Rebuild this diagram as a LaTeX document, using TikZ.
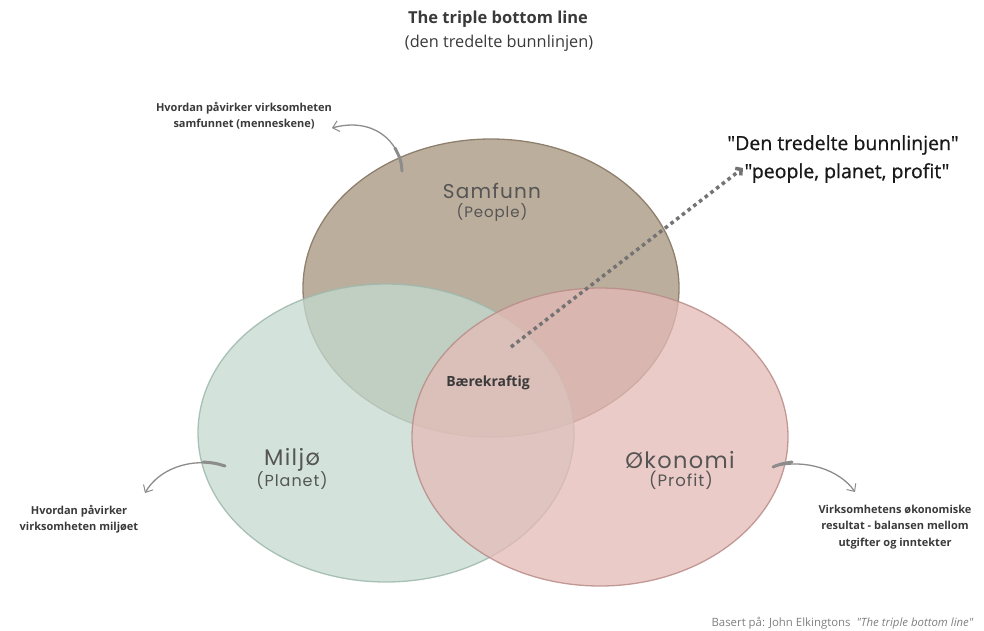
\documentclass[tikz,border=0pt]{standalone}
\usepackage{fontspec}
\setmainfont{Open Sans}
\newfontfamily\plainquotes{Open Sans}[Ligatures=TeXOff]
\newfontfamily\slogantype{Open Sans}[Ligatures=TeXOff, FakeBold=0.8]
\newfontfamily\circlefont{Poppins}[LetterSpace=6]
\usetikzlibrary{shapes.geometric,arrows.meta,calc}

\definecolor{peoplefill}{HTML}{BCAE9C}
\definecolor{peopleline}{HTML}{8F806E}
\definecolor{planetfill}{HTML}{C4DAD0}
\definecolor{planetline}{HTML}{9DB8AC}
\definecolor{profitfill}{HTML}{E4BAB6}
\definecolor{profitline}{HTML}{B98C88}
\definecolor{ink}{HTML}{3A3A3A}
\definecolor{softink}{HTML}{555555}
\definecolor{brush}{HTML}{8C8C8C}
\definecolor{dots}{HTML}{737373}
\definecolor{footink}{HTML}{808080}

\begin{document}
\begin{tikzpicture}[x=1pt,y=-1pt,
  pillar/.style={ellipse, inner sep=0pt, outer sep=0pt,
    minimum width=376pt, minimum height=298pt, line width=1.3pt},
  blend/.style={fill opacity=0.75, draw opacity=0.85},
  pillarname/.style={font=\circlefont\fontsize{20}{22}\selectfont, text=softink},
  pillarsub/.style={font=\circlefont\fontsize{15}{17}\selectfont, text=softink},
  note/.style={font=\bfseries\fontsize{11}{16.5}\selectfont, text=ink, align=center, inner sep=0pt},
  slogan/.style={font=\slogantype\fontsize{19.5}{22}\selectfont, text=black!90},
  brushline/.style={draw=brush, line width=1.3pt, line cap=round,
    -{Straight Barb[length=6pt, width=11pt, line width=1pt]}},
  brushbase/.style={draw=brush, line width=3pt, line cap=round},
  dotline/.style={draw=dots, line width=3.5pt, dash pattern=on 3.6pt off 3.6pt,
    -{Straight Barb[length=4pt, width=9pt, line width=3.5pt]}}
]
\useasboundingbox (0,0) rectangle (984,630);

% three overlapping pillars
\node[pillar, fill=peoplefill, draw=peopleline] (people) at (491,288) {};
\node[pillar, blend, fill=planetfill, draw=planetline] (planet) at (386,433) {};
\node[pillar, blend, fill=profitfill, draw=profitline] (profit) at (600,437) {};

% titles
\node[font=\bfseries\fontsize{16.5}{18}\selectfont, text=ink] (title) at (498,19) {The triple bottom line};
\node[font=\fontsize{16.3}{18}\selectfont, text=ink] (subtitle) at (499,43) {(den tredelte bunnlinjen)};

% pillar names
\node[pillarname] (peoplename) at (492,191) {Samfunn};
\node[pillarsub] (peoplesub) at (492,212) {(People)};
\node[pillarname, font=\circlefont\fontsize{22.5}{24}\selectfont] (planetname) at (292,460) {Miljø};
\node[pillarsub, font=\circlefont\fontsize{16}{18}\selectfont] (planetsub) at (292,481) {(Planet)};
\node[pillarname, font=\circlefont\fontsize{22.5}{24}\selectfont] (profitname) at (680,460) {Økonomi};
\node[pillarsub, font=\circlefont\fontsize{16.5}{18}\selectfont] (profitsub) at (681,480) {(Profit)};

% the centre
\node[font=\bfseries\fontsize{14}{16}\selectfont, text=ink] (core) at (488,383) {Bærekraftig};

% explanatory notes
\node[note] (peoplenote) at (244,116) {Hvordan påvirker virksomheten\\samfunnet (menneskene)};
\node[note] (planetnote) at (79,519) {Hvordan påvirker\\virksomheten miljøet};
\node[note] (profitnote) at (895,527) {Virksomhetens økonomiske\\resultat - balansen mellom\\utgifter og inntekter};

\node[slogan] (tbl) at (843,145) {"Den tredelte bunnlinjen"};
\node[slogan] (ppp) at (847,173) {"people, planet, profit"};

\node[font=\plainquotes\fontsize{11.4}{13}\selectfont, text=footink, anchor=east] (source) at (977,623)
  {Basert på: John Elkingtons\ \ \textit{"The triple bottom line"}};

% curved brush arrows from the pillars to their notes
\coordinate (peoplefrom) at (402,171);
\coordinate (peopletip) at (332,128);
\draw[brushbase] (peoplefrom) .. controls (401,160) .. (395,148);
\draw[brushline] (peoplefrom) .. controls (400,140) and (372,117) .. (peopletip);

\coordinate (planetfrom) at (225,466);
\coordinate (planettip) at (145,493);
\draw[brushbase] (planetfrom) .. controls (215,463) .. (203,462);
\draw[brushline] (planetfrom) .. controls (190,456) and (158,470) .. (planettip);

\coordinate (profitfrom) at (773,467);
\coordinate (profittip) at (855,492);
\draw[brushbase] (profitfrom) .. controls (780,464) .. (792,462);
\draw[brushline] (profitfrom) .. controls (805,458) and (840,470) .. (profittip);

% dotted pointer from the centre to the slogan
\coordinate (dotfrom) at (511,347);
\coordinate (dotto) at (743,168);
\draw[dotline] (dotfrom) -- (dotto);
\end{tikzpicture}
\end{document}
